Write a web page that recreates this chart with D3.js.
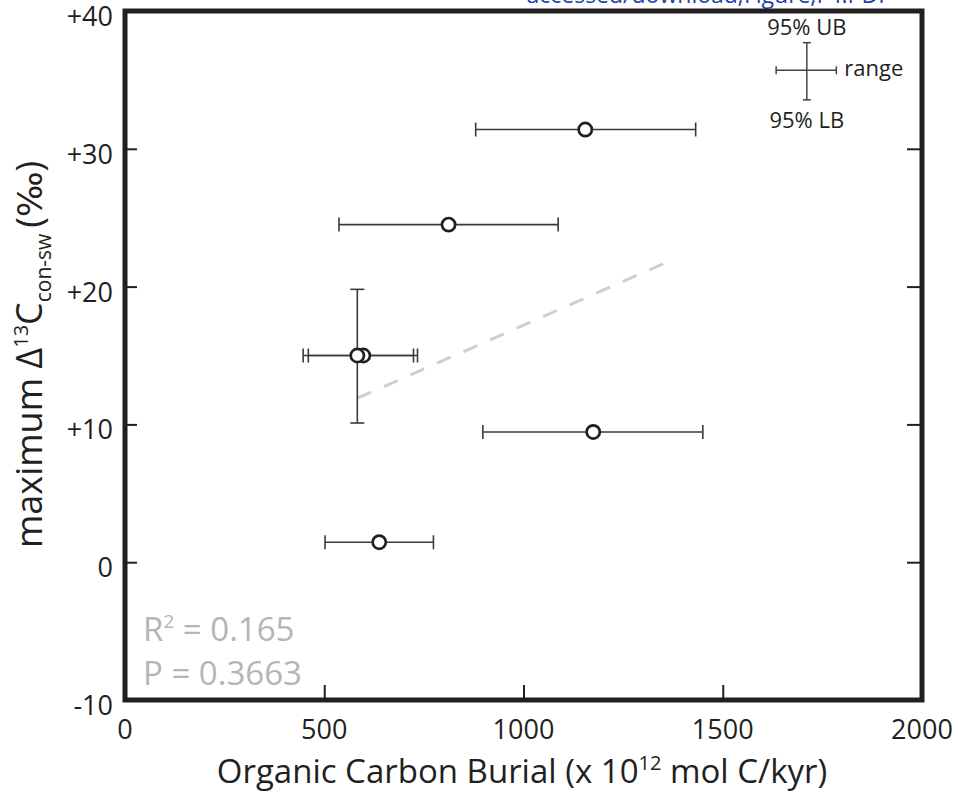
<!DOCTYPE html>
<html>
<head>
<meta charset="utf-8">
<script src="https://cdn.jsdelivr.net/npm/d3@7"></script>
<style>
  html, body { margin: 0; padding: 0; background: #fff; }
  svg { display: block; }
  text { font-family: "Open Sans", "Noto Sans", sans-serif; }
</style>
</head>
<body>
<svg id="chart" width="958" height="804"></svg>
<script>
// ---- data ----
const pointX    = [1155, 812, 583, 598, 1175, 638];
const pointY    = [31.4, 24.5, 15.0, 15.0, 9.45, 1.45];
const rangeLow  = [880, 537, 447, 460, 898, 502];
const rangeHigh = [1432, 1087, 724, 734, 1450, 774];
// vertical 95% bounds (only one sample has them)
const ciX   = [583];
const ciLow = [10.1];
const ciHigh= [19.8];
// regression line endpoints
const fitX = [583, 1354];
const fitY = [11.9, 21.7];
// legend key (data coords)
const keyX = [1711], keyY = [35.7];
const keyXLow = [1634], keyXHigh = [1785];
const keyYLow = [33.55], keyYHigh = [37.7];
// axis ticks
const xTicks = [0, 500, 1000, 1500, 2000];
const xTickLabels = ["0", "500", "1000", "1500", "2000"];
const yTicks = [-10, 0, 10, 20, 30, 40];
const yTickLabels = ["-10", "0", "+10", "+20", "+30", "+40"];
const statsText = [["R", "2", " = 0.165"], ["P = 0.3663"]];

// ---- layout ----
const svg = d3.select("#chart");
const L = 125, R = 922, T = 11, B = 700;
const x = d3.scaleLinear().domain([0, 2000]).range([L, R]);
const y = d3.scaleLinear().domain([-10, 40]).range([B, T]);
const ink = "#231f20";

// watermark (cut off at top)
svg.append("text").attr("x", 890).attr("y", 3).attr("text-anchor", "end")
  .attr("font-size", 23).attr("fill", "#1f3fa8")
  .text("accessed/download;Figure;F4.PDF");

// regression line
svg.append("line")
  .attr("x1", x(fitX[0])).attr("y1", y(fitY[0]))
  .attr("x2", x(fitX[1])).attr("y2", y(fitY[1]))
  .attr("stroke", "#cfcfcf").attr("stroke-width", 3)
  .attr("stroke-dasharray", "15,14");

// axes ticks (inward)
const bottomAxis = d3.axisBottom(x).tickValues([500, 1000, 1500]).tickSize(-15).tickFormat("");
const gb = svg.append("g").attr("transform", `translate(0,${B})`).call(bottomAxis);
const leftAxis = d3.axisLeft(y).tickValues([0, 10, 20, 30]).tickSize(-12).tickFormat("");
const gl = svg.append("g").attr("transform", `translate(${L},0)`).call(leftAxis);
const rightAxis = d3.axisRight(y).tickValues([0, 10, 20, 30]).tickSize(-15).tickFormat("");
const gr = svg.append("g").attr("transform", `translate(${R},0)`).call(rightAxis);
[gb, gl, gr].forEach(g => {
  g.select(".domain").remove();
  g.selectAll("line").attr("stroke", ink).attr("stroke-width", 2);
});

// frame
svg.append("rect").attr("x", L).attr("y", T).attr("width", R - L).attr("height", B - T)
  .attr("fill", "none").attr("stroke", ink).attr("stroke-width", 5);

// tick labels
svg.append("g").selectAll("text").data(xTicks).join("text")
  .attr("x", d => x(d)).attr("y", 739).attr("text-anchor", "middle")
  .attr("font-size", 27).attr("fill", ink)
  .text((d, i) => xTickLabels[i]);
svg.append("g").selectAll("text").data(yTicks).join("text")
  .attr("x", 113).attr("y", d => y(d) + 15).attr("text-anchor", "end")
  .attr("font-size", 27).attr("fill", ink)
  .text((d, i) => yTickLabels[i]);

// axis titles
const xt = svg.append("text").attr("x", 522).attr("y", 783)
  .attr("text-anchor", "middle").attr("font-size", 33).attr("fill", ink);
xt.append("tspan").text("Organic Carbon Burial (x 10");
xt.append("tspan").attr("dy", -13).attr("font-size", 20).text("12");
xt.append("tspan").attr("dy", 13).text(" mol C/kyr)");

const yt = svg.append("text").attr("transform", `translate(42,548) rotate(-90)`)
  .attr("text-anchor", "start").attr("font-size", 36).attr("fill", ink);
yt.append("tspan").text("maximum \u0394");
yt.append("tspan").attr("dy", -14).attr("font-size", 20).text("13");
yt.append("tspan").attr("dy", 14).text("C");
yt.append("tspan").attr("dy", 9).attr("font-size", 21).text("con-sw");
yt.append("tspan").attr("dy", -9).attr("dx", 6).text("(");
yt.append("tspan").attr("font-family", "DejaVu Sans").attr("font-size", 34).text("\u2030");
yt.append("tspan").text(")");

// stats text
const st1 = svg.append("text").attr("x", 143).attr("y", 641).attr("font-size", 33).attr("fill", "#b5b5b5");
st1.append("tspan").text(statsText[0][0]);
st1.append("tspan").attr("dy", -13).attr("font-size", 19).text(statsText[0][1]);
st1.append("tspan").attr("dy", 13).text(statsText[0][2]);
svg.append("text").attr("x", 143).attr("y", 685).attr("font-size", 33).attr("fill", "#b5b5b5")
  .text(statsText[1][0]);

// error bars
const eb = "#3a3a3a", cap = 7;
const gE = svg.append("g").attr("stroke", eb).attr("stroke-width", 1.6).attr("fill", "none");
pointX.forEach((px, i) => {
  const yy = y(pointY[i]);
  gE.append("line").attr("x1", x(rangeLow[i])).attr("x2", x(rangeHigh[i])).attr("y1", yy).attr("y2", yy);
  gE.append("line").attr("x1", x(rangeLow[i])).attr("x2", x(rangeLow[i])).attr("y1", yy - cap).attr("y2", yy + cap);
  gE.append("line").attr("x1", x(rangeHigh[i])).attr("x2", x(rangeHigh[i])).attr("y1", yy - cap).attr("y2", yy + cap);
});
ciX.forEach((cx, i) => {
  const xx = x(cx);
  gE.append("line").attr("x1", xx).attr("x2", xx).attr("y1", y(ciLow[i])).attr("y2", y(ciHigh[i]));
  gE.append("line").attr("x1", xx - cap).attr("x2", xx + cap).attr("y1", y(ciLow[i])).attr("y2", y(ciLow[i]));
  gE.append("line").attr("x1", xx - cap).attr("x2", xx + cap).attr("y1", y(ciHigh[i])).attr("y2", y(ciHigh[i]));
});

// points (draw right one of the overlapping pair first)
const order = d3.range(pointX.length).sort((a, b) => pointX[b] - pointX[a]);
svg.append("g").selectAll("circle").data(order).join("circle")
  .attr("cx", i => x(pointX[i])).attr("cy", i => y(pointY[i])).attr("r", 6.6)
  .attr("fill", "#fff").attr("stroke", ink).attr("stroke-width", 2.7);

// legend key
const gK = svg.append("g").attr("stroke", "#444").attr("stroke-width", 1.5);
const kx = x(keyX[0]), ky = y(keyY[0]), kc = 4;
gK.append("line").attr("x1", kx).attr("x2", kx).attr("y1", y(keyYLow[0])).attr("y2", y(keyYHigh[0]));
gK.append("line").attr("x1", kx - kc).attr("x2", kx + kc).attr("y1", y(keyYLow[0])).attr("y2", y(keyYLow[0]));
gK.append("line").attr("x1", kx - kc).attr("x2", kx + kc).attr("y1", y(keyYHigh[0])).attr("y2", y(keyYHigh[0]));
gK.append("line").attr("x1", x(keyXLow[0])).attr("x2", x(keyXHigh[0])).attr("y1", ky).attr("y2", ky);
gK.append("line").attr("x1", x(keyXLow[0])).attr("x2", x(keyXLow[0])).attr("y1", ky - kc).attr("y2", ky + kc);
gK.append("line").attr("x1", x(keyXHigh[0])).attr("x2", x(keyXHigh[0])).attr("y1", ky - kc).attr("y2", ky + kc);
svg.append("text").attr("x", kx).attr("y", 35).attr("text-anchor", "middle").attr("font-size", 22).attr("fill", ink).text("95% UB");
svg.append("text").attr("x", kx).attr("y", 128).attr("text-anchor", "middle").attr("font-size", 22).attr("fill", ink).text("95% LB");
svg.append("text").attr("x", x(keyXHigh[0]) + 8).attr("y", ky + 6).attr("font-size", 22).attr("fill", ink).text("range");
</script>
</body>
</html>
